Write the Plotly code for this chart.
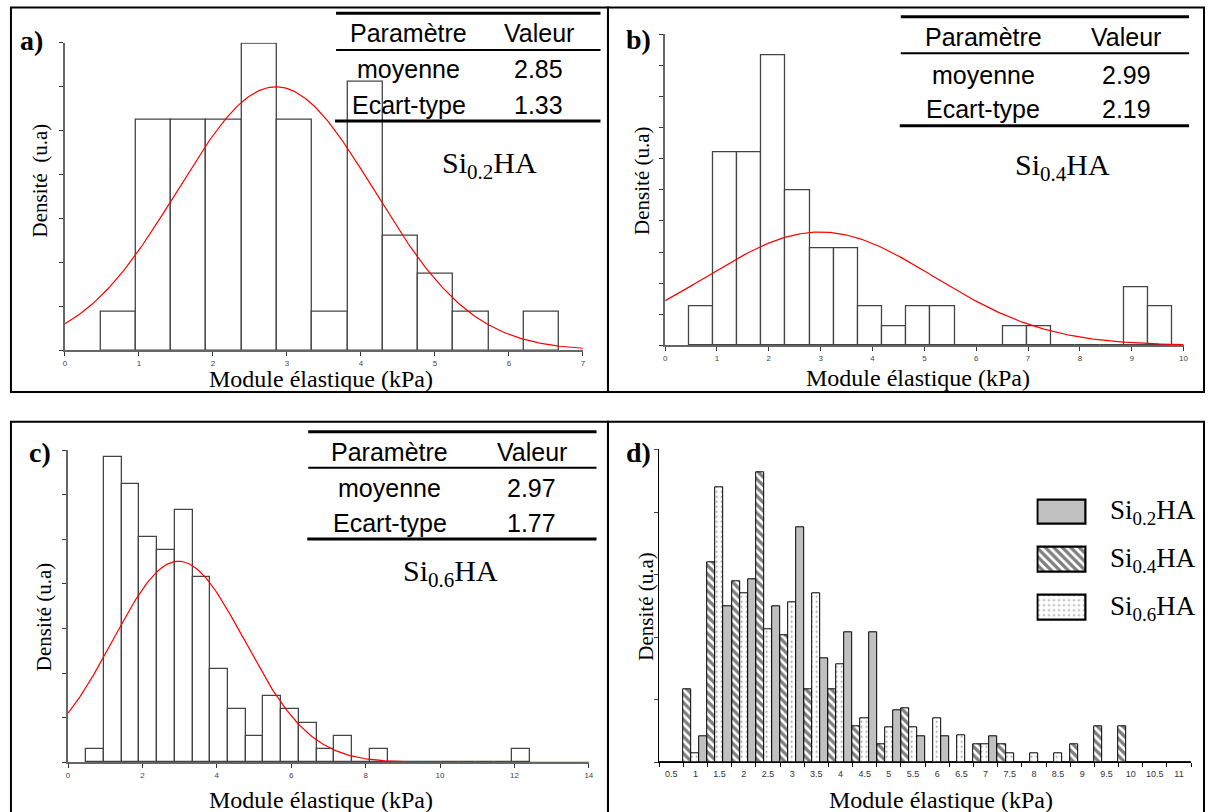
import numpy as np
import plotly.graph_objects as go

W, H = 1210, 812

# a) Si0.2HA - histogram counts per bin
a_counts = [1, 6, 6, 6, 8, 6, 1, 7, 3, 2, 1, 0, 1]
a_start, a_width = 0.48, 0.477
a_mean, a_sd = 2.85, 1.33

# b) Si0.4HA
b_counts = [2, 10, 10, 15, 8, 5, 5, 2, 1, 2, 2, 0, 0, 1, 1, 0, 0, 0, 3, 2]
b_start, b_width = 0.459, 0.466
b_mean, b_sd = 2.99, 2.19

# c) Si0.6HA
c_counts = [1, 23, 21, 17, 16, 19, 14, 7, 4, 2, 5, 4, 3, 1, 2, 0, 1, 0, 0, 0, 0, 0, 0, 0, 1]
c_start, c_width = 0.485, 0.477
c_mean, c_sd = 2.97, 1.77

# d) comparison, counts per 0.5 kPa class
d_cats = ["0.5", "1", "1.5", "2", "2.5", "3", "3.5", "4", "4.5", "5", "5.5",
          "6", "6.5", "7", "7.5", "8", "8.5", "9", "9.5", "10", "10.5", "11"]
d_si02 = [0, 1, 6, 7, 6, 9, 4, 5, 5, 2, 1, 1, 0, 1, 0, 0, 0, 0, 0, 0, 0, 0]
d_si04 = [0, 4, 11, 10, 16, 7, 4, 4, 2, 1, 3, 0, 0, 1, 1, 0, 0, 1, 2, 2, 0, 0]
d_si06 = [0, 1, 31, 19, 15, 18, 19, 11, 5, 4, 4, 5, 3, 2, 1, 1, 1, 0, 0, 0, 0, 0]
n_si02, n_si04, n_si06 = 48, 69, 141

names = ["Si<sub>0.2</sub>HA", "Si<sub>0.4</sub>HA", "Si<sub>0.6</sub>HA"]

SERIF = "Liberation Serif, Times New Roman, serif"
SANS = "Liberation Sans, Arial, sans-serif"


def px(x):
    return x / W


def py(y):
    return 1 - y / H


fig = go.Figure()

panels = [
    # counts, start, width, mean, sd, xmax, xdtick, ymax, suffix
    (a_counts, a_start, a_width, a_mean, a_sd, 7, 1, 0.35, ""),
    (b_counts, b_start, b_width, b_mean, b_sd, 10, 1, 0.5, "2"),
    (c_counts, c_start, c_width, c_mean, c_sd, 14, 2, 0.35, "3"),
]
domains = [
    ((63.3, 584.3), (350.3, 42.7)),
    ((667, 1188.5), (345.3, 34.3)),
    ((66.4, 590.3), (762.3, 450)),
]

for (counts, start, width, mean, sd, xmax, xdt, ymax, s), (dx, dy) in zip(panels, domains):
    n = sum(counts)
    centers = [start + width * (i + 0.5) for i in range(len(counts))]
    dens = [c / (n * width) for c in counts]
    fig.add_trace(go.Bar(x=centers, y=dens, width=width, xaxis="x" + s, yaxis="y" + s,
                         marker=dict(color="white", line=dict(color="#444", width=1.3)),
                         showlegend=False))
    xs = np.linspace(0, xmax, 300)
    ys = np.exp(-(xs - mean) ** 2 / (2 * sd ** 2)) / (sd * np.sqrt(2 * np.pi))
    fig.add_trace(go.Scatter(x=xs, y=ys, mode="lines", xaxis="x" + s, yaxis="y" + s,
                             line=dict(color="red", width=1.2), showlegend=False))
    fig.layout["xaxis" + s] = dict(
        domain=[px(dx[0]), px(dx[1])], range=[0, xmax * 1.0001], anchor="y" + s,
        showline=True, linecolor="#666", linewidth=1.5, ticks="outside", ticklen=4,
        tickcolor="#333", dtick=xdt, tick0=0, showgrid=False, zeroline=False,
        tickangle=0, tickfont=dict(family=SANS, size=8, color="#444"))
    fig.layout["yaxis" + s] = dict(
        domain=[py(dy[0]), py(dy[1])], range=[0, ymax * 1.0005], anchor="x" + s,
        showline=True, linecolor="#666", linewidth=1.5, ticks="outside", ticklen=4,
        tickcolor="#333", dtick=0.05, tick0=0, showticklabels=False,
        showgrid=False, zeroline=False)

# panel d, bars drawn hatched / dotted / grey inside each class
d_style = [
    (d_si04, n_si04, names[1], dict(color="white", pattern=dict(shape="\\", fgcolor="black", bgcolor="white", size=6, solidity=0.55))),
    (d_si06, n_si06, names[2], dict(color="white", pattern=dict(shape=".", fgcolor="#333", bgcolor="white", size=5, solidity=0.12))),
    (d_si02, n_si02, names[0], dict(color="#c0c0c0")),
]
for vals, n, nm, mk in d_style:
    mk["line"] = dict(color="black", width=1)
    fig.add_trace(go.Bar(x=d_cats, y=[v / n * 100 for v in vals], name=nm, marker=mk,
                         xaxis="x4", yaxis="y4", showlegend=False))

fig.layout["xaxis4"] = dict(
    domain=[px(661), px(1196)], type="category", range=[-0.5, len(d_cats) - 0.5], anchor="y4",
    showline=True, linecolor="black", linewidth=1, ticks="outside", ticklen=4,
    tickson="boundaries", tickcolor="black", showgrid=False, zeroline=False,
    ticklabelstandoff=3, tickangle=0, tickfont=dict(family=SANS, size=9, color="#333"))
fig.layout["yaxis4"] = dict(
    domain=[py(762.3), py(449.3)], range=[0, 25.01], anchor="x4",
    showline=True, linecolor="black", linewidth=1, ticks="outside", ticklen=4,
    dtick=5, showticklabels=False, showgrid=False, zeroline=False)

# legend swatches of panel d on a hidden axis
for (vals, n, nm, mk) in [d_style[2], d_style[0], d_style[1]]:
    sw = dict(mk)
    sw["line"] = dict(color="black", width=2.2)
    fig.add_trace(go.Bar(x=[1], y=[nm], orientation="h", width=0.52, offsetgroup="lg",
                         marker=sw, xaxis="x5", yaxis="y5", showlegend=False))
fig.layout["xaxis5"] = dict(domain=[px(1040.5), px(1091.5)], range=[-0.03, 1.03],
                            anchor="y5", visible=False)
fig.layout["yaxis5"] = dict(domain=[py(631.5), py(487.7)], type="category",
                            categoryorder="array", categoryarray=names,
                            range=[2.5, -0.5], anchor="x5", visible=False)

ann = []


def text(x, y, t, size, family=SERIF, xanchor="center", **kw):
    ann.append(dict(x=px(x), y=py(y), xref="paper", yref="paper", text=t, showarrow=False,
                    xanchor=xanchor, yanchor="middle",
                    font=dict(family=family, size=size, color="black"), **kw))


shapes = []


def hline(x0, x1, y, w):
    shapes.append(dict(type="line", xref="paper", yref="paper", x0=px(x0), x1=px(x1),
                       y0=py(y), y1=py(y), line=dict(color="black", width=w)))


# panel frames
for x0, y0, x1, y1 in [(9, 7.5, 609.5, 392), (609.5, 7.5, 1209, 392),
                       (9, 421.7, 609.5, 814), (609.5, 421.7, 1209, 814)]:
    shapes.append(dict(type="rect", xref="paper", yref="paper", x0=px(x0), x1=px(x1),
                       y0=py(y1), y1=py(y0), line=dict(color="black", width=2)))

# parameter tables
tables = [
    ((336, 602, 13.3, 50, 121), (409, 540), (33, 69, 105), a_mean, a_sd),
    ((904, 1194, 16.7, 53.3, 125.7), (987, 1131), (37, 75, 109), b_mean, b_sd),
    ((308, 598, 431.7, 467.7, 539), (390, 533), (452.3, 487.7, 523.3), c_mean, c_sd),
]
for (x0, x1, yt, yh, yb), (c1, c2), rows, m, sd in tables:
    hline(x0, x1, yt, 3)
    hline(x0, x1, yh, 2)
    hline(x0 - 1, x1, yb, 3)
    text(c1, rows[0], "Paramètre", 25, SANS)
    text(c2, rows[0], "Valeur", 25, SANS)
    text(c1, rows[1], "moyenne", 25, SANS)
    text(c2, rows[1], "%.2f" % m, 25, SANS)
    text(c1, rows[2], "Ecart-type", 25, SANS)
    text(c2, rows[2], "%.2f" % sd, 25, SANS)

# sample labels
text(490, 165, names[0], 30)
text(1067, 167, names[1], 30)
text(451, 573, names[2], 30)
for i, yy in enumerate([511.7, 559.5, 607.5]):
    text(1112, yy, names[i], 27, xanchor="left")

# panel letters
for lab, x, y in [("a)", 30, 41), ("b)", 640, 39), ("c)", 38, 452), ("d)", 640, 452)]:
    text(x, y, "<b>%s</b>" % lab, 28)

# axis titles
for x, y in [(321, 379), (921, 378), (321, 800), (944, 800)]:
    text(x, y, "Module élastique (kPa)", 24)
for t, x, y in [("Densité  (u.a)", 38.6, 180), ("Densité (u.a)", 643.6, 181),
                ("Densité (u.a)", 42.4, 617), ("Densité (u.a)", 647.4, 607)]:
    text(x, y, t, 21, textangle=-90)

fig.update_layout(width=W, height=H, margin=dict(l=0, r=0, t=0, b=0),
                  paper_bgcolor="white", plot_bgcolor="white",
                  barmode="group", bargap=0, bargroupgap=0,
                  annotations=ann, shapes=shapes, showlegend=False)

fig.write_html("out.html", config={"displayModeBar": False},
               post_script="document.body.style.margin='0px';")
